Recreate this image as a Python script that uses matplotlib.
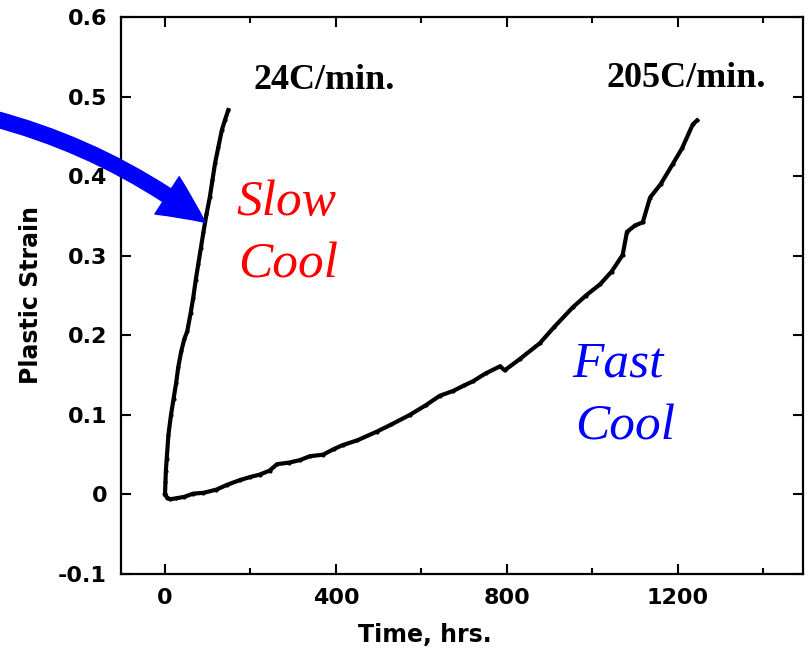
import numpy as np
import matplotlib
matplotlib.use("Agg")
import matplotlib.pyplot as plt
from matplotlib.ticker import MultipleLocator

# Data
slow_t = [0, 1, 2, 4, 8, 14, 20, 26, 31, 38, 45, 52, 60, 66, 72, 78, 84, 90,
          97, 105, 111, 117, 125, 133, 140, 148]
slow_strain = [0.0, 0.015, 0.03, 0.045, 0.075, 0.1, 0.12, 0.14, 0.16, 0.18,
               0.195, 0.205, 0.228, 0.247, 0.27, 0.29, 0.31, 0.33, 0.352,
               0.374, 0.395, 0.416, 0.437, 0.458, 0.47, 0.483]

fast_t = [0, 5, 12, 25, 45, 66, 90, 120, 145, 175, 200, 222, 245, 262, 290,
          315, 339, 370, 395, 416, 450, 496, 530, 573, 610, 643, 674, 700,
          720, 750, 784, 795, 830, 877, 910, 954, 985, 1018, 1045, 1071,
          1081, 1100, 1118, 1135, 1160, 1188, 1210, 1235, 1245]
fast_strain = [0, -0.004, -0.006, -0.005, -0.003, 0.001, 0.002, 0.006, 0.012,
               0.018, 0.022, 0.025, 0.03, 0.038, 0.04, 0.043, 0.048, 0.05,
               0.057, 0.062, 0.068, 0.079, 0.088, 0.1, 0.112, 0.124, 0.13,
               0.137, 0.142, 0.152, 0.161, 0.156, 0.17, 0.19, 0.21, 0.235,
               0.25, 0.264, 0.28, 0.301, 0.33, 0.338, 0.342, 0.373, 0.39,
               0.415, 0.435, 0.465, 0.47]

x_ticks = [0, 400, 800, 1200]
y_ticks = [-0.1, 0, 0.1, 0.2, 0.3, 0.4, 0.5, 0.6]
y_labels = ["-0.1", "0", "0.1", "0.2", "0.3", "0.4", "0.5", "0.6"]

fig = plt.figure(figsize=(8.06, 6.52), dpi=100)
ax = fig.add_axes([121 / 806, 1 - 574 / 652, 682 / 806, 557 / 652])

ax.plot(slow_t, slow_strain, color="black", lw=3, marker="o", ms=2)
ax.plot(fast_t, fast_strain, color="black", lw=3, marker="o", ms=2)

ax.set_xlim(-103, 1493)
ax.set_ylim(-0.1, 0.6)
ax.set_xticks(x_ticks)
ax.set_xticklabels([str(v) for v in x_ticks])
ax.xaxis.set_minor_locator(MultipleLocator(200))
ax.set_yticks(y_ticks)
ax.set_yticklabels(y_labels)

for s in ax.spines.values():
    s.set_linewidth(1.6)
ax.tick_params(which="both", direction="in", top=True, right=True, width=1.5)
ax.tick_params(which="major", length=7.5, pad=10)
ax.tick_params(which="minor", length=4)
for lab in ax.get_xticklabels() + ax.get_yticklabels():
    lab.set_fontsize(16)
    lab.set_fontweight("bold")

ax.set_xlabel("Time, hrs.", fontsize=17, fontweight="bold")
ax.set_ylabel("Plastic Strain", fontsize=17, fontweight="bold")
ax.xaxis.set_label_coords((425 - 121) / 682, -0.088)
ax.yaxis.set_label_coords(-0.115, 0.5)

serif = "Liberation Serif"
ax.text(206, 0.5095, "24C/min.", family=serif, fontweight="bold",
        fontsize=26, va="baseline", ha="left")
ax.text(1034, 0.512, "205C/min.", family=serif, fontweight="bold",
        fontsize=26, va="baseline", ha="left")

ax.text(168, 0.3506, "Slow", family=serif, style="italic", fontsize=37,
        color="#ff0000", va="baseline")
ax.text(171, 0.2724, "Cool", family=serif, style="italic", fontsize=37,
        color="#ff0000", va="baseline")
ax.text(954, 0.1488, "Fast", family=serif, style="italic", fontsize=37,
        color="#0000ff", va="baseline")
ax.text(959, 0.0694, "Cool", family=serif, style="italic", fontsize=37,
        color="#0000ff", va="baseline")

# big blue arrow pointing at the slow-cool curve
ax.annotate("", xy=(94, 0.342), xycoords="data",
            xytext=(-0.01, 1 - 118 / 652), textcoords="figure fraction",
            arrowprops=dict(arrowstyle="simple,head_length=1.05,head_width=1.0,tail_width=0.34",
                            mutation_scale=32, color="#0000ff",
                            connectionstyle="arc3,rad=-0.1",
                            shrinkA=0, shrinkB=0),
            annotation_clip=False)

fig.savefig("out.png", dpi=100)
